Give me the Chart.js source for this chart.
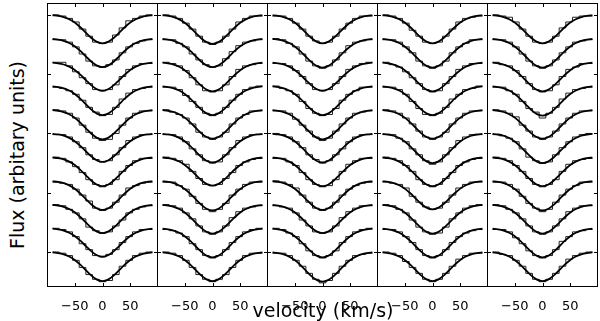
<!DOCTYPE html>
<html>
<head>
<meta charset="utf-8">
<script src="https://cdn.jsdelivr.net/npm/chart.js@4.4.1/dist/chart.umd.min.js"></script>
<style>
  body { margin: 0; background: #fff; }
  #wrap { position: relative; width: 600px; height: 321px; font-family: "DejaVu Sans", sans-serif; }
  #wrap canvas { position: absolute; top: 0; }
  .ylab { position: absolute; left: 17px; top: 155px; transform: translate(-50%, -50%) rotate(-90deg); font-size: 19px; white-space: nowrap; }
  .xlab { position: absolute; left: 323px; top: 310px; transform: translate(-50%, -50%); font-size: 19px; white-space: nowrap; }
</style>
</head>
<body>
<div id="wrap">
  <canvas id="p0" width="111" height="321" style="left:47px"></canvas>
  <canvas id="p1" width="111" height="321" style="left:157px"></canvas>
  <canvas id="p2" width="111" height="321" style="left:267px"></canvas>
  <canvas id="p3" width="111" height="321" style="left:377px"></canvas>
  <canvas id="p4" width="111" height="321" style="left:487px"></canvas>
  <div class="ylab">Flux (arbitary units)</div>
  <div class="xlab">velocity (km/s)</div>
</div>
<script>
// tick positions
var velocityTicks = [-50, 0, 50];
var levelTicks = [1.0, 1.5, 2.0, 2.5, 3.0];

// continuum level of each row, top to bottom
var rowLevels = [3.0, 2.8, 2.6, 2.4, 2.2, 2.0, 1.8, 1.6, 1.4, 1.2, 1.0];

// histogram bin edges (km/s), 15 bins
var binEdges = [-90, -78, -66, -54, -42, -30, -18, -6, 6, 18, 30, 42, 54, 66, 78, 90];

// fitted line shape (fraction of depth) at these velocities
var fitVelocity = [-90, -80, -70, -60, -50, -40, -30, -20, -10, 0, 10, 20, 30, 40, 50, 60, 70, 80, 90];
var fitShape = [0.015, 0.036, 0.078, 0.154, 0.272, 0.435, 0.626, 0.812, 0.949, 1.0, 0.949, 0.812, 0.626, 0.435, 0.272, 0.154, 0.078, 0.036, 0.015];

// fitted depth for every row of each panel
var depthPanel1 = [0.24, 0.24, 0.24, 0.245, 0.25, 0.24, 0.245, 0.245, 0.24, 0.24, 0.245];
var depthPanel2 = [0.245, 0.24, 0.245, 0.245, 0.245, 0.245, 0.24, 0.25, 0.245, 0.245, 0.245];
var depthPanel3 = [0.24, 0.245, 0.24, 0.245, 0.25, 0.245, 0.245, 0.245, 0.24, 0.245, 0.25];
var depthPanel4 = [0.24, 0.245, 0.245, 0.245, 0.245, 0.25, 0.245, 0.24, 0.245, 0.245, 0.245];
var depthPanel5 = [0.24, 0.245, 0.245, 0.25, 0.245, 0.25, 0.245, 0.25, 0.245, 0.245, 0.245];

// observed flux (x100) per bin, rows top to bottom
var fluxPanel1 = [
  [100, 99, 97, 94, 88, 82, 77, 76, 77, 83, 89, 95, 97, 99, 100],
  [99, 99, 97, 93, 87, 81, 77, 76, 78, 82, 88, 93, 96, 98, 99],
  [100, 100, 97, 92, 87, 82, 77, 76, 77, 81, 88, 94, 97, 99, 99],
  [99, 98, 96, 93, 88, 82, 78, 75, 76, 82, 89, 94, 97, 98, 99],
  [100, 99, 97, 93, 87, 81, 76, 74, 75, 80, 87, 93, 97, 99, 99],
  [99, 99, 97, 93, 88, 82, 78, 76, 77, 82, 88, 94, 97, 99, 99],
  [100, 99, 96, 92, 87, 81, 77, 75, 77, 81, 88, 93, 97, 99, 99],
  [99, 98, 97, 93, 88, 83, 77, 75, 77, 82, 88, 94, 96, 98, 99],
  [100, 99, 96, 93, 88, 81, 78, 76, 77, 82, 87, 93, 96, 98, 99],
  [100, 99, 97, 93, 87, 82, 77, 76, 78, 82, 88, 93, 97, 99, 99],
  [100, 99, 97, 93, 87, 81, 77, 75, 76, 81, 88, 93, 97, 99, 100]
];
var fluxPanel2 = [
  [100, 99, 97, 93, 88, 82, 77, 75, 77, 82, 88, 94, 97, 99, 99],
  [99, 99, 96, 93, 87, 82, 78, 76, 77, 83, 89, 94, 97, 98, 99],
  [100, 99, 97, 93, 87, 81, 76, 75, 76, 81, 88, 94, 97, 98, 99],
  [99, 99, 97, 92, 87, 82, 77, 75, 77, 82, 88, 93, 97, 99, 100],
  [100, 98, 96, 93, 88, 81, 77, 75, 77, 81, 88, 93, 96, 99, 99],
  [99, 99, 97, 93, 87, 82, 77, 75, 76, 82, 88, 94, 97, 99, 99],
  [100, 99, 97, 94, 88, 82, 77, 76, 77, 82, 87, 93, 96, 98, 99],
  [99, 99, 96, 93, 87, 81, 76, 74, 76, 81, 88, 93, 97, 99, 99],
  [100, 99, 97, 93, 88, 82, 77, 75, 77, 82, 89, 94, 97, 98, 99],
  [99, 98, 96, 93, 87, 82, 77, 75, 77, 82, 88, 93, 97, 99, 100],
  [100, 99, 97, 93, 87, 81, 77, 75, 77, 81, 87, 93, 97, 99, 99]
];
var fluxPanel3 = [
  [99, 99, 97, 93, 88, 82, 78, 76, 77, 82, 88, 93, 97, 99, 99],
  [100, 99, 96, 93, 87, 81, 77, 75, 77, 82, 88, 94, 97, 98, 99],
  [99, 99, 97, 93, 88, 82, 77, 76, 77, 82, 88, 94, 97, 99, 100],
  [100, 98, 96, 93, 87, 81, 77, 75, 76, 81, 88, 93, 96, 99, 99],
  [99, 99, 97, 92, 87, 82, 77, 74, 76, 82, 88, 93, 97, 98, 99],
  [100, 99, 97, 93, 88, 82, 78, 75, 77, 82, 87, 93, 97, 99, 99],
  [99, 99, 96, 93, 87, 81, 77, 75, 76, 81, 88, 94, 97, 99, 99],
  [100, 99, 97, 94, 88, 82, 77, 75, 77, 82, 88, 93, 96, 98, 99],
  [99, 98, 97, 93, 87, 82, 77, 76, 77, 82, 89, 94, 97, 99, 99],
  [100, 99, 96, 93, 87, 81, 77, 75, 77, 81, 88, 93, 97, 99, 100],
  [99, 99, 97, 93, 88, 82, 77, 74, 76, 82, 88, 93, 97, 98, 99]
];
var fluxPanel4 = [
  [100, 99, 97, 93, 87, 82, 77, 76, 77, 82, 88, 94, 97, 98, 99],
  [99, 99, 97, 93, 88, 81, 77, 75, 77, 81, 88, 93, 96, 99, 99],
  [100, 98, 96, 92, 87, 82, 77, 75, 76, 82, 88, 94, 97, 99, 99],
  [99, 99, 97, 93, 87, 81, 76, 75, 77, 82, 89, 93, 97, 98, 100],
  [100, 99, 97, 93, 88, 82, 77, 75, 77, 81, 88, 93, 97, 99, 99],
  [99, 99, 96, 93, 87, 82, 77, 74, 76, 82, 88, 94, 97, 99, 99],
  [100, 99, 97, 93, 88, 81, 77, 75, 77, 82, 87, 93, 96, 98, 99],
  [99, 98, 97, 94, 87, 82, 78, 76, 77, 82, 88, 94, 97, 99, 99],
  [100, 99, 96, 93, 87, 81, 77, 75, 76, 81, 88, 93, 97, 99, 100],
  [99, 99, 97, 93, 88, 82, 77, 75, 77, 82, 88, 93, 96, 98, 99],
  [100, 99, 97, 92, 87, 82, 77, 75, 77, 82, 88, 94, 97, 99, 99]
];
var fluxPanel5 = [
  [100, 99, 98, 94, 88, 82, 77, 76, 77, 82, 89, 94, 98, 99, 99],
  [99, 99, 97, 93, 87, 81, 77, 75, 77, 82, 88, 93, 97, 98, 99],
  [100, 98, 97, 93, 88, 82, 77, 75, 76, 81, 88, 94, 96, 99, 99],
  [99, 99, 96, 93, 87, 81, 78, 73, 77, 82, 89, 94, 97, 98, 99],
  [100, 99, 97, 94, 87, 82, 77, 75, 77, 82, 88, 93, 97, 99, 99],
  [99, 98, 96, 93, 87, 80, 77, 75, 76, 82, 88, 93, 97, 99, 100],
  [100, 99, 97, 93, 88, 82, 77, 75, 77, 81, 88, 94, 97, 98, 99],
  [99, 99, 97, 93, 87, 81, 77, 74, 76, 82, 88, 93, 96, 99, 99],
  [100, 99, 96, 93, 88, 82, 77, 75, 77, 82, 88, 94, 97, 99, 99],
  [99, 99, 97, 92, 87, 81, 77, 75, 77, 82, 89, 93, 97, 98, 99],
  [100, 98, 97, 93, 88, 82, 77, 75, 77, 82, 88, 94, 97, 99, 100]
];

var allFlux = [fluxPanel1, fluxPanel2, fluxPanel3, fluxPanel4, fluxPanel5];
var allDepth = [depthPanel1, depthPanel2, depthPanel3, depthPanel4, depthPanel5];

// box + inward ticks on all four sides
var framePlugin = {
  id: 'frame',
  afterDraw: function (chart) {
    var ctx = chart.ctx, a = chart.chartArea;
    var xs = chart.scales.x, ys = chart.scales.y;
    ctx.save();
    ctx.strokeStyle = '#000';
    ctx.lineWidth = 1;
    ctx.strokeRect(a.left + 0.5, a.top + 0.5, a.right - a.left - 1, a.bottom - a.top - 1);
    ctx.beginPath();
    velocityTicks.forEach(function (v) {
      var px = Math.round(xs.getPixelForValue(v)) + 0.5;
      ctx.moveTo(px, a.top); ctx.lineTo(px, a.top + 4);
      ctx.moveTo(px, a.bottom); ctx.lineTo(px, a.bottom - 4);
    });
    levelTicks.forEach(function (v) {
      var py = Math.round(ys.getPixelForValue(v)) + 0.5;
      ctx.moveTo(a.left, py); ctx.lineTo(a.left + 4, py);
      ctx.moveTo(a.right, py); ctx.lineTo(a.right - 4, py);
    });
    ctx.stroke();
    ctx.restore();
  }
};

function makePanel(p) {
  var datasets = [];
  rowLevels.forEach(function (level, r) {
    // fitted curve
    datasets.push({
      data: fitVelocity.map(function (v, j) {
        return { x: v, y: level - allDepth[p][r] * fitShape[j] };
      }),
      borderColor: '#000',
      borderWidth: 1.8,
      cubicInterpolationMode: 'monotone'
    });
    // observed histogram: bin j spans binEdges[j]..binEdges[j+1]
    var flux = allFlux[p][r];
    datasets.push({
      data: binEdges.map(function (e, j) {
        var f = flux[Math.min(j, flux.length - 1)];
        return { x: e, y: level - 1 + f / 100 };
      }),
      borderColor: '#222',
      borderWidth: 1,
      stepped: 'before'
    });
  });

  new Chart(document.getElementById('p' + p).getContext('2d'), {
    type: 'line',
    data: { datasets: datasets },
    options: {
      responsive: false,
      animation: false,
      devicePixelRatio: 1,
      layout: { padding: { top: 3, left: 0, right: 0, bottom: 0 } },
      elements: { point: { radius: 0 } },
      plugins: { legend: { display: false }, tooltip: { enabled: false } },
      scales: {
        x: {
          type: 'linear',
          min: -100,
          max: 100,
          grid: { display: false },
          border: { display: false },
          afterBuildTicks: function (s) {
            s.ticks = velocityTicks.map(function (v) { return { value: v }; });
          },
          afterFit: function (s) { s.height = 34; },
          ticks: {
            color: '#000',
            padding: 4,
            maxRotation: 0,
            font: { family: 'DejaVu Sans', size: 13 },
            callback: function (v) { return String(v).replace('-', '\u2212'); }
          }
        },
        y: {
          type: 'linear',
          min: 0.705,
          max: 3.10,
          display: false
        }
      }
    },
    plugins: [framePlugin]
  });
}

for (var p = 0; p < 5; p++) makePanel(p);
</script>
</body>
</html>
